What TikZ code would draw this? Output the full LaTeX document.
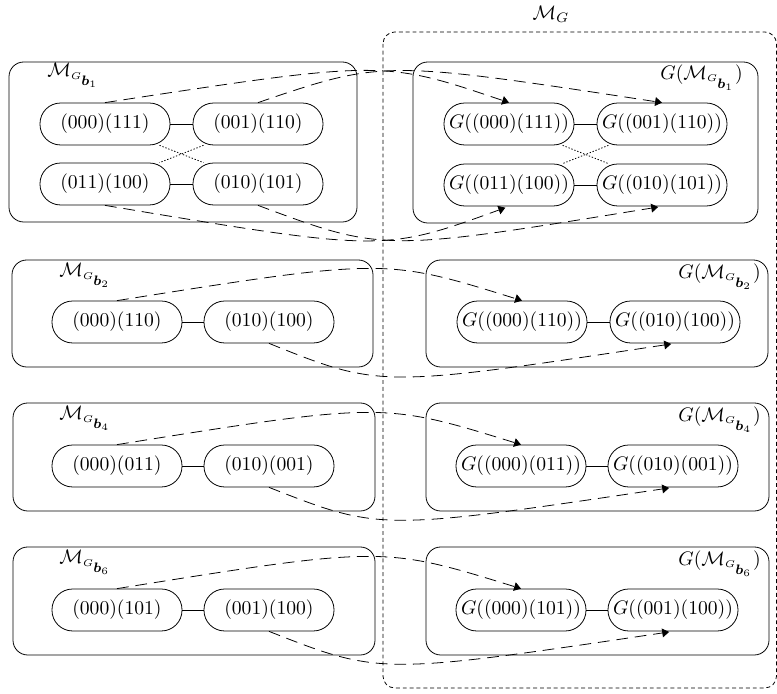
\documentclass[tikz,border=0pt]{standalone}
\usepackage{amsmath,amssymb}
\usetikzlibrary{arrows.meta}
\tikzset{
  cell/.style={draw, rounded corners=10.5pt, minimum width=66.3pt, minimum height=21.4pt, inner xsep=1pt, inner ysep=0pt},
  bigbox/.style={draw, rounded corners=7.5pt},
  outerbox/.style={draw, rounded corners=6pt, dash pattern=on 2pt off 1.5pt},
  mapto/.style={dash pattern=on 6pt off 3.5pt, -{Triangle[length=3.5pt,width=4.5pt]}},
  link/.style={draw},
  xlink/.style={draw, dash pattern=on 0.7pt off 0.9pt},
  lbl/.style={inner sep=1pt},
}
\newcommand{\MGb}[1]{\mathcal{M}_{\scriptscriptstyle G_{\scriptstyle\boldsymbol{b}_{#1}}}}
\begin{document}
\begin{tikzpicture}[x=0.51pt,y=-0.51pt]
\useasboundingbox (0,0) rectangle (777,694);

% outer dashed region
\draw[outerbox] (383,32) rectangle (776.5,688);
\node[lbl] (mg) at (551,14) {$\mathcal{M}_G$};

% ---------- row 1 ----------
\draw[bigbox] (9,62) rectangle (357,222);
\draw[bigbox] (413,62) rectangle (758,223);
\node[lbl, anchor=north west] (l1) at (45,61) {$\MGb{1}$};
\node[lbl, anchor=north east] (g1) at (745,62) {$G(\MGb{1})$};

\node[cell] (a1) at (105,124) {$(000)(111)$};
\node[cell] (a2) at (258,124) {$(001)(110)$};
\node[cell] (a3) at (105,184) {$(011)(100)$};
\node[cell] (a4) at (258,184) {$(010)(101)$};
\node[cell] (r1) at (509,124) {$G((000)(111))$};
\node[cell] (r2) at (662,124) {$G((001)(110))$};
\node[cell] (r3) at (509,185) {$G((011)(100))$};
\node[cell] (r4) at (662,185) {$G((010)(101))$};

\draw[link] (a1) -- (a2);
\draw[link] (a3) -- (a4);
\draw[xlink] (a1) -- (a4);
\draw[xlink] (a2) -- (a3);
\draw[link] (r1) -- (r2);
\draw[link] (r3) -- (r4);
\draw[xlink] (r1) -- (r4);
\draw[xlink] (r2) -- (r3);

\draw[mapto] (a1.north) .. controls (383,60) .. (r1.north);
\draw[mapto] (a2.north) .. controls (383,60) .. (r2.north);
\draw[mapto, shorten >=2pt] (a3.south) .. controls (383,252) .. (r3.south);
\draw[mapto, shorten >=2pt] (a4.south) .. controls (383,252) .. (r4.south);

% ---------- row 2 ----------
\draw[bigbox] (12,260) rectangle (373,367);
\draw[bigbox] (426,260) rectangle (768,367);
\node[lbl, anchor=north west] (l2) at (57,261) {$\MGb{2}$};
\node[lbl, anchor=north east] (g2) at (763,261) {$G(\MGb{2})$};
\node[cell] (b1) at (117,322) {$(000)(110)$};
\node[cell] (b2) at (269,322) {$(010)(100)$};
\node[cell] (s1) at (522,322) {$G((000)(110))$};
\node[cell] (s2) at (675,322) {$G((010)(100))$};
\draw[link] (b1) -- (b2);
\draw[link] (s1) -- (s2);
\draw[mapto] (b1.north) .. controls (385,258) .. (s1.north);
\draw[mapto, shorten >=2pt] (b2.south) .. controls (380,388) .. (s2.south);

% ---------- row 3 ----------
\draw[bigbox] (13,403) rectangle (375,511);
\draw[bigbox] (426,403) rectangle (769,511);
\node[lbl, anchor=north west] (l3) at (57,404) {$\MGb{4}$};
\node[lbl, anchor=north east] (g3) at (763,404) {$G(\MGb{4})$};
\node[cell] (c1) at (117,466) {$(000)(011)$};
\node[cell] (c2) at (269,466) {$(010)(001)$};
\node[cell] (t1) at (521,466) {$G((000)(011))$};
\node[cell] (t2) at (673,466) {$G((010)(001))$};
\draw[link] (c1) -- (c2);
\draw[link] (t1) -- (t2);
\draw[mapto] (c1.north) .. controls (383,402) .. (t1.north);
\draw[mapto, shorten >=2pt] (c2.south) .. controls (380,531) .. (t2.south);

% ---------- row 4 ----------
\draw[bigbox] (13,547) rectangle (375,655);
\draw[bigbox] (426,547) rectangle (769,655);
\node[lbl, anchor=north west] (l4) at (57,548) {$\MGb{6}$};
\node[lbl, anchor=north east] (g4) at (763,548) {$G(\MGb{6})$};
\node[cell] (d1) at (117,610) {$(000)(101)$};
\node[cell] (d2) at (269,610) {$(001)(100)$};
\node[cell] (u1) at (521,610) {$G((000)(101))$};
\node[cell] (u2) at (673,610) {$G((001)(100))$};
\draw[link] (d1) -- (d2);
\draw[link] (u1) -- (u2);
\draw[mapto] (d1.north) .. controls (383,546) .. (u1.north);
\draw[mapto, shorten >=2pt] (d2.south) .. controls (380,675) .. (u2.south);
\end{tikzpicture}
\end{document}
